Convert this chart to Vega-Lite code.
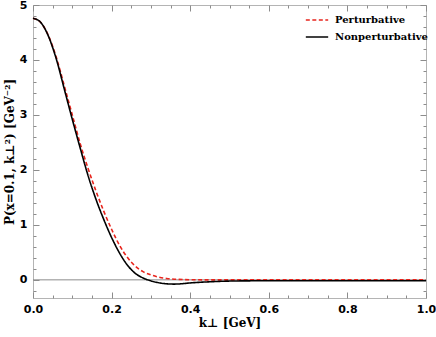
{
  "$schema": "https://vega.github.io/schema/vega-lite/v6.json",
  "autosize": "none",
  "width": 393,
  "height": 293,
  "padding": {"left": 33, "top": 5, "right": 10, "bottom": 39},
  "background": "white",
  "config": {
    "view": {"stroke": "#b4b4b4", "strokeWidth": 1},
    "axis": {
      "domain": false,
      "grid": false,
      "labelFont": "DejaVu Sans",
      "labelFontWeight": "bold",
      "labelFontSize": 11,
      "labelColor": "black",
      "titleFont": "DejaVu Serif",
      "titleFontWeight": "bold",
      "titleFontSize": 12,
      "titleColor": "black"
    }
  },
  "datasets": {
    "curves": [
      {"k": 0.00, "P": 4.76, "series": "Perturbative"},
      {"k": 0.02, "P": 4.68, "series": "Perturbative"},
      {"k": 0.04, "P": 4.43, "series": "Perturbative"},
      {"k": 0.06, "P": 4.03, "series": "Perturbative"},
      {"k": 0.08, "P": 3.52, "series": "Perturbative"},
      {"k": 0.10, "P": 3.00, "series": "Perturbative"},
      {"k": 0.12, "P": 2.48, "series": "Perturbative"},
      {"k": 0.14, "P": 2.03, "series": "Perturbative"},
      {"k": 0.16, "P": 1.62, "series": "Perturbative"},
      {"k": 0.18, "P": 1.25, "series": "Perturbative"},
      {"k": 0.20, "P": 0.92, "series": "Perturbative"},
      {"k": 0.22, "P": 0.63, "series": "Perturbative"},
      {"k": 0.24, "P": 0.41, "series": "Perturbative"},
      {"k": 0.26, "P": 0.25, "series": "Perturbative"},
      {"k": 0.28, "P": 0.15, "series": "Perturbative"},
      {"k": 0.30, "P": 0.09, "series": "Perturbative"},
      {"k": 0.32, "P": 0.05, "series": "Perturbative"},
      {"k": 0.34, "P": 0.025, "series": "Perturbative"},
      {"k": 0.36, "P": 0.012, "series": "Perturbative"},
      {"k": 0.40, "P": 0.003, "series": "Perturbative"},
      {"k": 0.45, "P": 0.0, "series": "Perturbative"},
      {"k": 0.50, "P": 0.0, "series": "Perturbative"},
      {"k": 0.60, "P": 0.0, "series": "Perturbative"},
      {"k": 0.70, "P": 0.0, "series": "Perturbative"},
      {"k": 0.80, "P": 0.0, "series": "Perturbative"},
      {"k": 0.90, "P": 0.0, "series": "Perturbative"},
      {"k": 1.00, "P": 0.0, "series": "Perturbative"},
      {"k": 0.00, "P": 4.76, "series": "Nonperturbative"},
      {"k": 0.02, "P": 4.68, "series": "Nonperturbative"},
      {"k": 0.04, "P": 4.42, "series": "Nonperturbative"},
      {"k": 0.06, "P": 4.00, "series": "Nonperturbative"},
      {"k": 0.08, "P": 3.46, "series": "Nonperturbative"},
      {"k": 0.10, "P": 2.92, "series": "Nonperturbative"},
      {"k": 0.12, "P": 2.40, "series": "Nonperturbative"},
      {"k": 0.14, "P": 1.90, "series": "Nonperturbative"},
      {"k": 0.16, "P": 1.47, "series": "Nonperturbative"},
      {"k": 0.18, "P": 1.10, "series": "Nonperturbative"},
      {"k": 0.20, "P": 0.77, "series": "Nonperturbative"},
      {"k": 0.22, "P": 0.49, "series": "Nonperturbative"},
      {"k": 0.24, "P": 0.27, "series": "Nonperturbative"},
      {"k": 0.26, "P": 0.12, "series": "Nonperturbative"},
      {"k": 0.28, "P": 0.035, "series": "Nonperturbative"},
      {"k": 0.30, "P": -0.018, "series": "Nonperturbative"},
      {"k": 0.32, "P": -0.052, "series": "Nonperturbative"},
      {"k": 0.34, "P": -0.072, "series": "Nonperturbative"},
      {"k": 0.36, "P": -0.077, "series": "Nonperturbative"},
      {"k": 0.38, "P": -0.07, "series": "Nonperturbative"},
      {"k": 0.40, "P": -0.056, "series": "Nonperturbative"},
      {"k": 0.45, "P": -0.035, "series": "Nonperturbative"},
      {"k": 0.50, "P": -0.022, "series": "Nonperturbative"},
      {"k": 0.60, "P": -0.016, "series": "Nonperturbative"},
      {"k": 0.70, "P": -0.015, "series": "Nonperturbative"},
      {"k": 0.80, "P": -0.015, "series": "Nonperturbative"},
      {"k": 0.90, "P": -0.015, "series": "Nonperturbative"},
      {"k": 1.00, "P": -0.015, "series": "Nonperturbative"}
    ]
  },
  "layer": [
    {
      "data": {"values": [{"y": 0}]},
      "mark": {"type": "rule", "color": "#8c8c8c", "strokeWidth": 1},
      "encoding": {
        "y": {"field": "y", "type": "quantitative", "scale": {"domain": [-0.33, 5], "nice": false, "zero": false},
          "axis": {"orient": "left", "values": [-0.2,0.2,0.4,0.6,0.8,1.2,1.4,1.6,1.8,2.2,2.4,2.6,2.8,3.2,3.4,3.6,3.8,4.2,4.4,4.6,4.8],
            "labels": false, "title": null, "tickColor": "#8c8c8c", "tickSize": -3}}
      }
    },
    {
      "data": {"name": "curves"},
      "mark": {"type": "line", "strokeWidth": 1.6, "interpolate": "monotone"},
      "encoding": {
        "x": {"field": "k", "type": "quantitative", "scale": {"domain": [0, 1], "nice": false, "zero": false},
          "axis": {"orient": "bottom", "values": [0, 0.2, 0.4, 0.6, 0.8, 1],
            "format": ".1f", "tickColor": "#8c8c8c", "tickSize": -6,
            "labelPadding": 11, "labelFlush": false,
            "title": "k⊥ [GeV]", "titlePadding": 3}},
        "y": {"field": "P", "type": "quantitative", "scale": {"domain": [-0.33, 5], "nice": false, "zero": false},
          "axis": {"orient": "left", "values": [0, 1, 2, 3, 4, 5], "format": "d",
            "tickColor": "#8c8c8c", "tickSize": -6, "labelPadding": 12,
            "title": "P(x=0.1, k⊥²) [GeV⁻²]", "titlePadding": 3}},
        "color": {"field": "series", "type": "nominal", "sort": ["Perturbative", "Nonperturbative"],
          "scale": {"domain": ["Perturbative", "Nonperturbative"], "range": ["#e8241c", "black"]},
          "legend": {"title": null, "orient": "none", "legendX": 272, "legendY": 3, "symbolType": "stroke", "symbolSize": 500,
            "symbolStrokeWidth": 1.6, "labelFont": "DejaVu Serif", "labelFontWeight": "bold", "labelFontSize": 10, "rowPadding": -4, "labelOffset": 6}},
        "strokeDash": {"field": "series", "type": "nominal", "sort": ["Perturbative", "Nonperturbative"],
          "scale": {"domain": ["Perturbative", "Nonperturbative"], "range": [[4, 2.5], [1, 0]]}}
      }
    },
    {
      "data": {"values": [{"y": 0}]},
      "mark": {"type": "point", "opacity": 0},
      "encoding": {
        "x": {"datum": 0.5, "type": "quantitative", "scale": {"domain": [0, 1], "nice": false, "zero": false},
          "axis": {"orient": "bottom", "values": [0.05,0.1,0.15,0.25,0.3,0.35,0.45,0.5,0.55,0.65,0.7,0.75,0.85,0.9,0.95],
            "labels": false, "title": null, "tickColor": "#8c8c8c", "tickSize": -3}},
        "y": {"datum": 1, "type": "quantitative", "scale": {"domain": [-0.33, 5], "nice": false, "zero": false},
          "axis": {"orient": "right", "values": [0, 1, 2, 3, 4, 5],
            "labels": false, "title": null, "tickColor": "#8c8c8c", "tickSize": -6}}
      }
    },
    {
      "data": {"values": [{"y": 0}]},
      "mark": {"type": "point", "opacity": 0},
      "encoding": {
        "x": {"datum": 0.5, "type": "quantitative", "scale": {"domain": [0, 1], "nice": false, "zero": false},
          "axis": {"orient": "top", "values": [0, 0.2, 0.4, 0.6, 0.8, 1],
            "labels": false, "title": null, "tickColor": "#8c8c8c", "tickSize": -6}},
        "y": {"datum": 1, "type": "quantitative", "scale": {"domain": [-0.33, 5], "nice": false, "zero": false},
          "axis": {"orient": "right", "values": [-0.2,0.2,0.4,0.6,0.8,1.2,1.4,1.6,1.8,2.2,2.4,2.6,2.8,3.2,3.4,3.6,3.8,4.2,4.4,4.6,4.8],
            "labels": false, "title": null, "tickColor": "#8c8c8c", "tickSize": -3}}
      }
    },
    {
      "data": {"values": [{"y": 0}]},
      "mark": {"type": "point", "opacity": 0},
      "encoding": {
        "x": {"datum": 0.5, "type": "quantitative", "scale": {"domain": [0, 1], "nice": false, "zero": false},
          "axis": {"orient": "top", "values": [0.05,0.1,0.15,0.25,0.3,0.35,0.45,0.5,0.55,0.65,0.7,0.75,0.85,0.9,0.95],
            "labels": false, "title": null, "tickColor": "#8c8c8c", "tickSize": -3}},
        "y": {"datum": 1, "type": "quantitative", "scale": {"domain": [-0.33, 5], "nice": false, "zero": false}, "axis": null}
      }
    }
  ],
  "resolve": {"axis": {"x": "independent", "y": "independent"}}
}
